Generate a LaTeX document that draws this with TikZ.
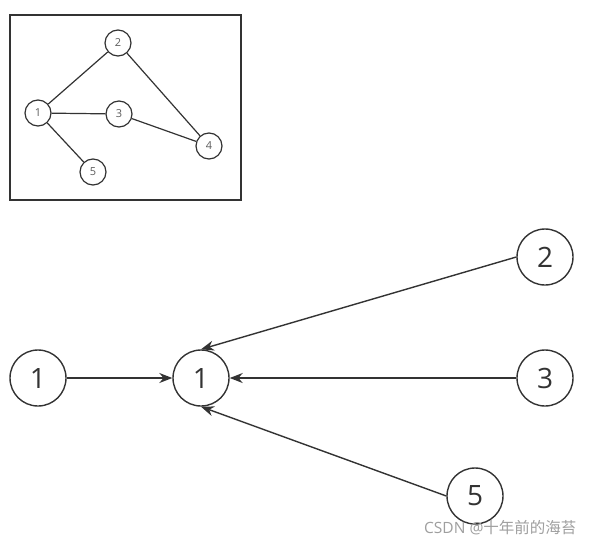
\documentclass[tikz,border=0pt]{standalone}
\usepackage{fontspec}
\setmainfont{Open Sans}
\newfontfamily\cjk{Noto Sans CJK SC}
\usetikzlibrary{arrows.meta}
\definecolor{ink}{HTML}{333333}
\tikzset{
  small/.style={circle, draw=ink, line width=1.2pt, minimum size=26pt, inner sep=0pt, font=\fontsize{11}{11}\selectfont, text=ink!80},
  big/.style={circle, draw=ink, line width=1.4pt, minimum size=56pt, inner sep=0pt, font=\fontsize{28}{28}\selectfont, text=ink},
  edge/.style={draw=ink, line width=1.2pt},
  arr/.style={draw=ink, line width=1.4pt, -{Stealth[length=13pt,width=10pt]}}
}
\begin{document}
\begin{tikzpicture}[x=1pt,y=-1pt]
\useasboundingbox (0,0) rectangle (593,546);
\fill[white] (0,0) rectangle (593,546);
\node[draw=ink, line width=1.5pt, minimum width=231pt, minimum height=185pt, inner sep=0pt] (frame) at (125.5,107.5) {};
\node[small] (s1) at (38,113) {1};
\node[small] (s2) at (118,43) {2};
\node[small] (s3) at (119,114) {3};
\node[small] (s4) at (209,146) {4};
\node[small] (s5) at (93,172) {5};
\draw[edge] (s1) -- (s2);
\draw[edge] (s1) -- (s3);
\draw[edge] (s1) -- (s5);
\draw[edge] (s2) -- (s4);
\draw[edge] (s3) -- (s4);
\node[big] (b1l) at (38,378) {1};
\node[big] (b1) at (201,378) {1};
\node[big] (b2) at (545,257) {2};
\node[big] (b3) at (545,378) {3};
\node[big] (b5) at (475,496) {5};
\draw[arr] (b1l) -- (b1);
\draw[arr] (b2.west) -- (b1.north);
\draw[arr] (b3) -- (b1);
\draw[arr] (b5.west) -- (b1.south);
\node[font=\fontsize{15.5}{15.5}\selectfont, text=gray!75, anchor=west, inner sep=0pt] (wm) at (424,528) {CSDN @{\cjk 十年前的海苔}};
\end{tikzpicture}
\end{document}
